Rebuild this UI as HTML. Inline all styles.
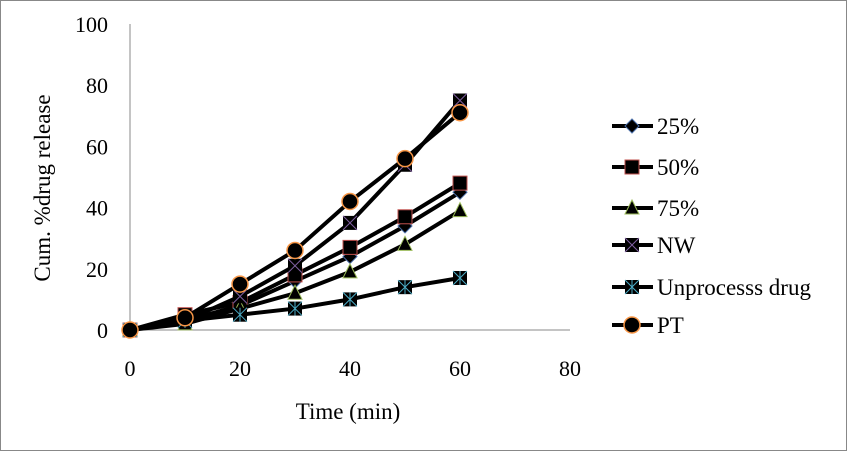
<!DOCTYPE html>
<html><head><meta charset="utf-8"><style>
body{margin:0;background:#fff}
svg{display:block;font-family:"Liberation Serif",serif}
</style></head><body>
<svg id="c" width="847" height="451">
<rect x="0.5" y="0.5" width="846" height="450" fill="#fff" stroke="#888"/>
</svg>
<script>
const times=[0,10,20,30,40,50,60];
const s25=[0,3,8,16,24,34,45];
const s50=[0,5,9,18,27,37,48];
const s75=[0,2,7,12,19,28,39];
const sNW=[0,3,11,21,35,54,75];
const sUn=[0,3,5,7,10,14,17];
const sPT=[0,4,15,26,42,56,71];
const xTicks=[0,20,40,60,80];
const yTicks=[0,20,40,60,80,100];
const names=["25%","50%","75%","NW","Unprocesss drug","PT"];
const NS="http://www.w3.org/2000/svg";
const svg=document.getElementById('c');
const X=v=>130+v*5.5, Y=v=>330-v*3.06;
function el(t,a,p){const e=document.createElementNS(NS,t);for(const k in a)e.setAttribute(k,a[k]);(p||svg).appendChild(e);return e;}
el('line',{x1:X(0),y1:Y(0),x2:X(0),y2:Y(100),stroke:'#888'});
el('line',{x1:X(0),y1:Y(0),x2:X(80),y2:Y(0),stroke:'#888'});
yTicks.forEach(v=>{const t=el('text',{x:108,y:Y(v)+8,'text-anchor':'end','font-size':22});t.textContent=v;

});
xTicks.forEach(v=>{const t=el('text',{x:X(v),y:376,'text-anchor':'middle','font-size':22});t.textContent=v;

});
let t=el('text',{x:348,y:419,'text-anchor':'middle','font-size':23});t.textContent='Time (min)';


t=el('text',{x:0,y:0,'text-anchor':'middle','font-size':23,transform:'translate(50,188) rotate(-90)'});t.textContent='Cum. %drug release';


const series=[s25,s50,s75,sNW,sUn,sPT];
const cols=['#4a6ea8','#c0504d','#9bbb59','#7f5fa0','#4bacc6','#f79646'];
function marker(i,x,y,g){
 const c=cols[i];
 if(i==0) el('path',{d:`M${x} ${y-7}L${x+7} ${y}L${x} ${y+7}L${x-7} ${y}Z`,fill:'#000',stroke:c},g);
 else if(i==1) el('rect',{x:x-7,y:y-7,width:14,height:14,fill:'#000',stroke:c},g);
 else if(i==2) el('path',{d:`M${x} ${y-8}L${x+7} ${y+6}L${x-7} ${y+6}Z`,fill:'#000',stroke:c},g);
 else if(i==3||i==4){el('rect',{x:x-7,y:y-7,width:14,height:14,fill:'#000'},g);
   el('path',{d:`M${x-7} ${y-7}L${x+7} ${y+7}M${x+7} ${y-7}L${x-7} ${y+7}`+(i==4?`M${x} ${y-7}L${x} ${y+7}`:''),stroke:c},g);}
 else el('circle',{cx:x,cy:y,r:8,fill:'#000',stroke:c,'stroke-width':1.5},g);
}
const ly=[126,167,208,245,287,325];
series.forEach((s,i)=>{
 const g=el('g',{});
 
 
 el('polyline',{points:s.map((v,j)=>X(times[j])+','+Y(v)).join(' '),fill:'none',stroke:'#000','stroke-width':4},g);
 s.forEach((v,j)=>marker(i,X(times[j]),Y(v),g));
 const lg=el('g',{});
 
 
 el('line',{x1:612,y1:ly[i],x2:653,y2:ly[i],stroke:'#000','stroke-width':4},lg);
 marker(i,632,ly[i],lg);
 const tt=el('text',{x:657,y:ly[i]+8,'font-size':23},lg);tt.textContent=names[i];
});
</script>
</body></html>
